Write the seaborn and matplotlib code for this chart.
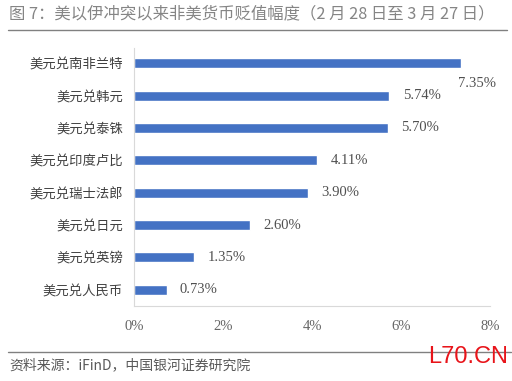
import matplotlib
matplotlib.use("Agg")
import matplotlib.pyplot as plt
import seaborn as sns
import pandas as pd

currencies = ["美元兑南非兰特", "美元兑韩元", "美元兑泰铢", "美元兑印度卢比",
              "美元兑瑞士法郎", "美元兑日元", "美元兑英镑", "美元兑人民币"]
depreciation = [7.35, 5.74, 5.70, 4.11, 3.90, 2.60, 1.35, 0.73]
x_ticks = [0, 2, 4, 6, 8]

sns.set_style("white")
plt.rcParams["font.family"] = ["Liberation Serif", "Noto Sans CJK SC", "DejaVu Sans"]

df = pd.DataFrame({"currency": currencies, "value": depreciation})

fig = plt.figure(figsize=(5.12, 3.81), dpi=100)
ax = fig.add_axes([0.262, 0.197, 0.695, 0.677])
sns.barplot(data=df, x="value", y="currency", orient="h", color="#4472C4",
            width=0.31, saturation=1, ax=ax)

ax.set_xlim(0, 8)
ax.set_ylim(7.5, -0.47)
ax.set_xticks(x_ticks)
ax.set_xticklabels([f"{t}%" for t in x_ticks], fontsize=10.5, color="#666666")
ax.set_yticks(range(len(currencies)))
ax.set_yticklabels(currencies, fontsize=9.6, color="#404040",
                   family=["Noto Sans CJK SC", "DejaVu Sans"])
ax.tick_params(axis="both", length=0, pad=8)
ax.tick_params(axis="x", pad=10)
ax.set_xlabel("")
ax.set_ylabel("")

for s in ["top", "right"]:
    ax.spines[s].set_visible(False)
for s in ["left", "bottom"]:
    ax.spines[s].set_color("#d9d9d9")
    ax.spines[s].set_linewidth(0.8)

# value labels; the longest one sits below its bar
for i, v in enumerate(depreciation):
    if i == 0:
        ax.text(v - 0.08, i + 0.62, f"{v:.2f}%", va="center", ha="left",
                fontsize=10.5, color="#505050")
    else:
        ax.text(v + 0.3, i, f"{v:.2f}%", va="center", ha="left",
                fontsize=10.5, color="#505050")

fig.text(0.018, 0.963, "图 7：美以伊冲突以来非美货币贬值幅度（2 月 28 日至 3 月 27 日）",
         fontsize=11.8, color="#858585", va="center", ha="left",
         family=["Noto Sans CJK SC", "DejaVu Sans"])
fig.add_artist(plt.Line2D([0.016, 0.99], [0.921, 0.921], color="#808080", lw=1))
fig.add_artist(plt.Line2D([0.016, 0.998], [0.076, 0.076], color="#808080", lw=1))
fig.text(0.018, 0.042, "资料来源：iFinD，中国银河证券研究院", fontsize=10,
         color="#595959", va="center", ha="left", style="italic",
         family=["Noto Sans CJK SC", "DejaVu Sans"])
fig.text(0.993, 0.062, "L70.CN", fontsize=17, color="#e8141a", va="center",
         ha="right", family="Liberation Sans")

fig.savefig("out.png", dpi=100)
